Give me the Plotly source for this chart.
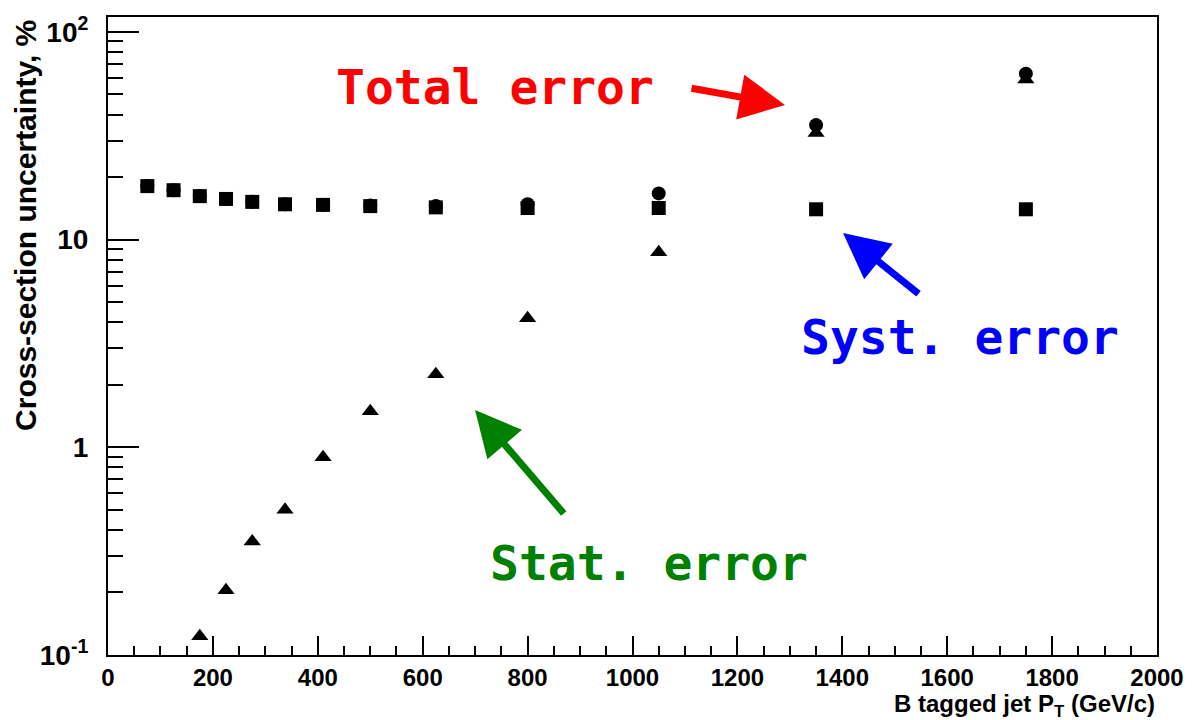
import plotly.graph_objects as go

# Jet pT bin centres (GeV/c)
pt = [75, 125, 175, 225, 275, 337.5, 410, 500, 625, 800, 1050, 1350, 1750]

# Cross-section uncertainties in percent
syst_err = [18.1, 17.3, 16.2, 15.7, 15.2, 14.8, 14.7, 14.5, 14.3, 14.2, 14.2, 14.0, 14.0]
stat_err = [0.04, 0.07, 0.123, 0.205, 0.352, 0.50, 0.895, 1.49, 2.25, 4.18, 8.7, 32.6, 59.0]
total_err = [18.1, 17.3, 16.2, 15.7, 15.2, 14.8, 14.7, 14.6, 14.5, 14.8, 16.7, 35.6, 63.0]

y_tickvals = [0.1, 1, 10, 100]
y_ticktext = ["10<sup>-1</sup>", "1", "10", "10<sup>2</sup>"]
y_minor = [m * 10 ** e for e in (-1, 0, 1) for m in range(2, 10)]

label_font = "Liberation Sans, Arial, Helvetica, sans-serif"
note_font = "Comic Sans MS, DejaVu Sans Mono, monospace"

fig = go.Figure()
fig.add_trace(go.Scatter(x=pt, y=total_err, mode="markers", name="Total",
                         marker=dict(symbol="circle", size=14, color="black")))
fig.add_trace(go.Scatter(x=pt, y=syst_err, mode="markers", name="Syst",
                         marker=dict(symbol="square", size=14, color="black")))
fig.add_trace(go.Scatter(x=pt, y=stat_err, mode="markers", name="Stat",
                         marker=dict(symbol="triangle-up", size=15, color="black")))

fig.update_layout(
    width=1196, height=720,
    margin=dict(l=108, r=39, t=17, b=65),
    paper_bgcolor="white", plot_bgcolor="white",
    showlegend=False,
    font=dict(family=label_font, color="black"),
)

fig.update_xaxes(
    range=[0, 2000], dtick=200, tick0=0,
    ticks="inside", ticklen=19, tickwidth=1.5, tickcolor="black",
    minor=dict(dtick=50, ticks="inside", ticklen=9, tickwidth=1.5, tickcolor="black"),
    showgrid=False, zeroline=False,
    showline=True, linecolor="black", linewidth=2, mirror=True,
    tickfont=dict(size=24, family=label_font, weight="bold"),
    ticklabelstandoff=0,
)
fig.update_yaxes(
    type="log", range=[-1, 2.072],
    tickmode="array", tickvals=y_tickvals, ticktext=y_ticktext,
    ticks="inside", ticklen=31, tickwidth=1.5, tickcolor="black",
    minor=dict(tickmode="array", tickvals=y_minor, ticks="inside", ticklen=15,
               tickwidth=1.5, tickcolor="black", showgrid=False),
    showgrid=False, zeroline=False,
    showline=True, linecolor="black", linewidth=2, mirror=True,
    tickfont=dict(size=28, family=label_font, weight="bold"),
    ticklabelstandoff=12,
)

# Axis titles
fig.add_annotation(text="B tagged jet P<sub>T</sub> (GeV/c)", xref="paper", yref="paper",
                   x=1.0, y=-0.0795, xanchor="right", yanchor="middle", showarrow=False,
                   font=dict(size=24, family=label_font, weight="bold"))
fig.add_annotation(text="Cross-section uncertainty, %", xref="paper", yref="paper",
                   x=-0.078, y=0.998, xanchor="center", yanchor="top", textangle=-90,
                   showarrow=False, font=dict(size=30, family=label_font, weight="bold"))

# Labels with arrows pointing at the series
notes = [
    ("Total error", "#ff0000", 0.369, 0.890, 0.6454, 0.862, -95, -17),
    ("Syst. error", "#0000ff", 0.812, 0.498, 0.7007, 0.6614, 77, 62),
    ("Stat. error", "#008000", 0.516, 0.144, 0.3499, 0.384, 90, 105),
]
for text, color, tx, ty, hx, hy, ax, ay in notes:
    fig.add_annotation(text=text, xref="paper", yref="paper", x=tx, y=ty,
                       xanchor="center", yanchor="middle", showarrow=False,
                       font=dict(size=48, family=note_font, color=color, weight="bold"))
    fig.add_annotation(text="", xref="paper", yref="paper", x=hx, y=hy,
                       ax=ax, ay=ay, showarrow=True, arrowhead=2, arrowsize=1.3,
                       arrowwidth=7, arrowcolor=color, standoff=0)

fig.write_html("out.html")
